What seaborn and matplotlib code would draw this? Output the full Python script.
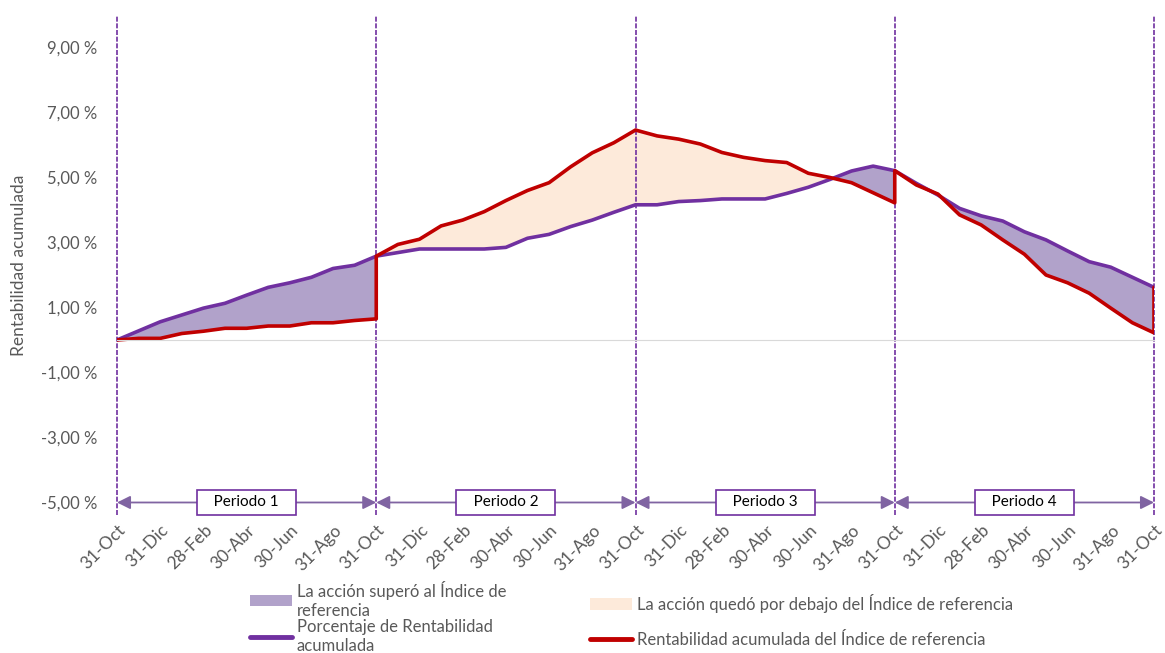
import numpy as np
import pandas as pd
import matplotlib.pyplot as plt
import matplotlib.ticker as mticker
import matplotlib.transforms as mtransforms
from matplotlib.patches import Patch
from matplotlib.lines import Line2D
import seaborn as sns

# Etiquetas del eje x (cada 2 meses, se repiten en cada periodo)
month_labels = ['31-Oct', '31-Dic', '28-Feb', '30-Abr', '30-Jun', '31-Ago']
period_names = ['Periodo 1', 'Periodo 2', 'Periodo 3', 'Periodo 4']

# Rentabilidad acumulada de la acción (%), mensual, 49 puntos
fund = [0.00, 0.28, 0.56, 0.77, 0.98, 1.13, 1.38, 1.62, 1.76, 1.93, 2.20, 2.30, 2.58,
        2.69, 2.80, 2.80, 2.80, 2.80, 2.85, 3.13, 3.25, 3.49, 3.69, 3.93, 4.16,
        4.16, 4.26, 4.29, 4.34, 4.34, 4.34, 4.51, 4.70, 4.94, 5.20, 5.35, 5.21,
        4.82, 4.46, 4.05, 3.82, 3.66, 3.33, 3.08, 2.74, 2.41, 2.24, 1.93, 1.62]

# Rentabilidad acumulada del índice (%), 13 puntos por periodo
index_p1 = [0.00, 0.05, 0.05, 0.20, 0.27, 0.36, 0.36, 0.43, 0.43, 0.53, 0.53, 0.60, 0.65]
index_p2 = [2.58, 2.94, 3.10, 3.51, 3.69, 3.95, 4.29, 4.60, 4.84, 5.33, 5.76, 6.07, 6.46]
index_p3 = [6.46, 6.28, 6.18, 6.03, 5.77, 5.62, 5.52, 5.46, 5.13, 5.00, 4.84, 4.53, 4.22]
index_p4 = [5.21, 4.77, 4.49, 3.85, 3.54, 3.08, 2.64, 2.00, 1.76, 1.44, 0.98, 0.53, 0.22]

PURPLE = '#7030A0'
RED = '#C00000'
LAVENDER = '#B1A2CA'
PEACH = '#FDEADA'
GREY = '#595959'

index_periods = [index_p1, index_p2, index_p3, index_p4]
fund_arr = np.array(fund)

df_fund = pd.DataFrame({'mes': np.arange(len(fund)), 'valor': fund})
red_x, red_y = [], []
for p, vals in enumerate(index_periods):
    red_x += list(p * 12 + np.arange(13))
    red_y += vals
# cierre vertical al final del último periodo
red_x.append(48)
red_y.append(fund[-1])
df_index = pd.DataFrame({'mes': red_x, 'valor': red_y})

sns.set_style('white')
plt.rcParams['font.family'] = ['Lato', 'DejaVu Sans']

fig = plt.figure(figsize=(11.65, 6.53), dpi=100)
ax = fig.add_axes([117 / 1165, 1 - 515 / 653, (1154 - 117) / 1165, 500 / 653])

# Áreas entre la acción y el índice
for p, vals in enumerate(index_periods):
    xs = p * 12 + np.arange(13)
    f = fund_arr[p * 12:p * 12 + 13]
    r = np.array(vals)
    ax.fill_between(xs, f, r, where=f >= r, interpolate=True, color=LAVENDER, lw=0)
    ax.fill_between(xs, f, r, where=f < r, interpolate=True, color=PEACH, lw=0)

sns.lineplot(data=df_fund, x='mes', y='valor', color=PURPLE, lw=2.6, ax=ax,
             sort=False, estimator=None)
sns.lineplot(data=df_index, x='mes', y='valor', color=RED, lw=2.6, ax=ax,
             sort=False, estimator=None)

# Líneas verticales de separación de periodos
for b in range(0, 49, 12):
    ax.axvline(b, color=PURPLE, lw=1.2, ls=(0, (3, 1)), clip_on=False, zorder=1)

# Flechas y cajas de periodos
for p, name in enumerate(period_names):
    ax.annotate('', xy=(p * 12 + 12, -5), xytext=(p * 12, -5),
                arrowprops=dict(arrowstyle='<|-|>', color='#8064A2', lw=1.3,
                                mutation_scale=20, shrinkA=0, shrinkB=0))
    ax.text(p * 12 + 6, -5, '   ' + name + '   ', ha='center', va='center', fontsize=11,
            color='black',
            bbox=dict(boxstyle='square,pad=0.35', fc='white', ec=PURPLE, lw=1.2))

ax.set_xlim(0, 48)
ax.set_ylim(-5.385, 10.0)

# Eje x en el cero (solo marcas)
for s in ['left', 'right', 'top']:
    ax.spines[s].set_visible(False)
ax.spines['bottom'].set_position(('data', 0))
ax.spines['bottom'].set_color('#D9D9D9')
ax.set_xticks(np.arange(0, 49, 2))
ax.tick_params(axis='x', length=5, color='#D9D9D9', labelbottom=False, direction='out')

# Etiquetas en la parte inferior
sec = ax.secondary_xaxis('bottom')
sec.spines['bottom'].set_visible(False)
sec.set_xticks(np.arange(0, 49, 2))
sec.set_xticklabels([month_labels[i % 6] for i in range(25)])
sec.tick_params(length=0, labelsize=12.5, colors=GREY, pad=9)
shift = mtransforms.ScaledTranslation(6 / 100, 0, fig.dpi_scale_trans)
for lbl in sec.get_xticklabels():
    lbl.set_rotation(45)
    lbl.set_ha('right')
    lbl.set_va('center')
    lbl.set_rotation_mode('anchor')
    lbl.set_transform(lbl.get_transform() + shift)

ax.set_yticks([-5, -3, -1, 1, 3, 5, 7, 9])
ax.yaxis.set_major_formatter(mticker.FuncFormatter(lambda v, _: f'{v:.2f} %'.replace('.', ',')))
ax.tick_params(axis='y', length=0, labelsize=12, colors=GREY, pad=14)
ax.set_xlabel('')
ax.set_ylabel('Rentabilidad acumulada', fontsize=12.5, color=GREY, labelpad=10)

# Leyenda en dos columnas
fig.legend(handles=[Patch(fc=LAVENDER, ec='none'), Line2D([], [], color=PURPLE, lw=3.5)],
           labels=['La acción superó al Índice de\nreferencia', 'Porcentaje de Rentabilidad\nacumulada'],
           loc='upper left', bbox_to_anchor=(250 / 1165, 1 - 581 / 653), frameon=False,
           fontsize=12, handlelength=2.5, handletextpad=0.3, labelspacing=0.05,
           labelcolor=GREY, borderpad=0, borderaxespad=0)
fig.legend(handles=[Patch(fc=PEACH, ec='none'), Line2D([], [], color=RED, lw=3.5)],
           labels=['La acción quedó por debajo del Índice de referencia',
                   'Rentabilidad acumulada del Índice de referencia'],
           loc='upper left', bbox_to_anchor=(590 / 1165, 1 - 594 / 653), frameon=False,
           fontsize=12, handlelength=2.5, handletextpad=0.3, labelspacing=1.15,
           labelcolor=GREY, borderpad=0, borderaxespad=0)

fig.savefig('out.png', dpi=100)
